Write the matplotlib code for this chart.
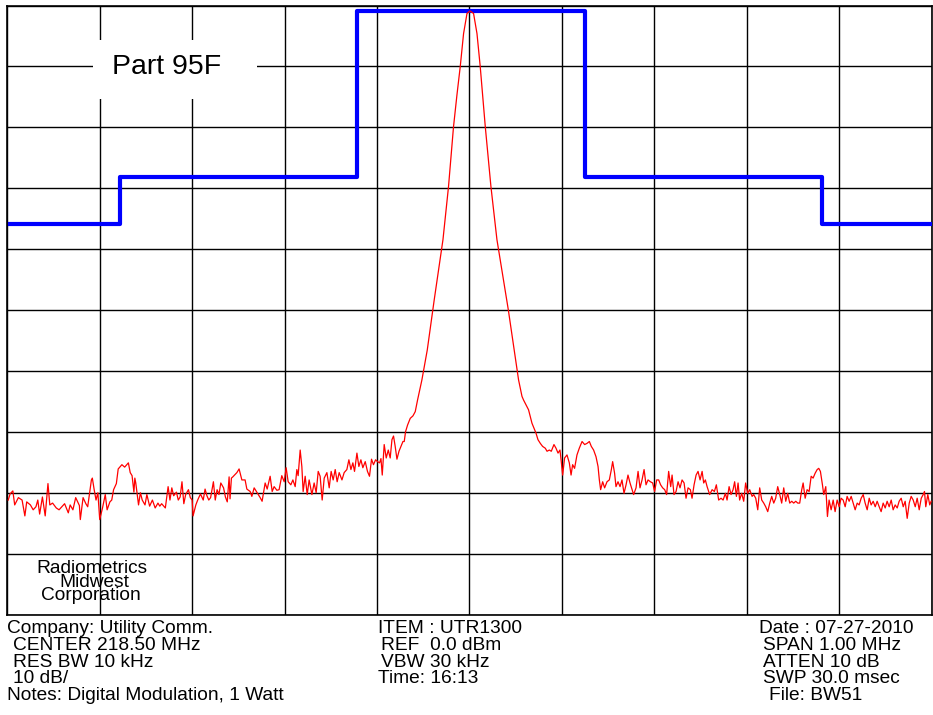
import matplotlib.pyplot as plt
from matplotlib.patches import Rectangle

plt.rcParams['font.family'] = ['Liberation Sans', 'DejaVu Sans']

# Part 95F emission mask (offset from centre in kHz, level in dBm)
mask_khz = [-497, -378, -378, -122, -122, 125, 125, 382, 382, 500]
mask_dbm = [-35.8, -35.8, -28.2, -28.2, -0.9, -0.9, -28.2, -28.2, -35.8, -35.8]

# measured sweep: offset from 218.50 MHz in kHz, level in dBm
trace_khz = [
    -499, -497, -494, -492, -488, -484, -481, -479, -475, -472, -469, -467, -465, -462,
    -459, -456, -454, -451, -447, -444, -441, -438, -434, -432, -429, -426, -422, -421,
    -418, -415, -413, -409, -408, -406, -404, -402, -400, -397, -394, -392, -389, -387,
    -385, -382, -380, -376, -373, -369, -367, -365, -363, -362, -361, -358, -356, -354,
    -351, -349, -346, -343, -340, -337, -335, -333, -329, -326, -324, -322, -320, -317,
    -315, -313, -311, -309, -307, -304, -302, -300, -299, -296, -294, -291, -288, -286,
    -284, -282, -280, -277, -275, -273, -271, -269, -266, -264, -262, -260, -259, -257.5,
    -256, -251.6, -249.2, -246.2, -242.7, -240.8, -237.2, -235.4, -232.9, -230.0, -226.4,
    -224.3, -221.0, -218.8, -215.6, -213.4, -211.3, -208.3, -205.9, -203.0, -200.4, -198.3,
    -196.1, -193.2, -191.0, -188.5, -186.7, -185.3, -183.1, -181.3, -179.9, -177.7, -175.5,
    -173.4, -170.4, -168.0, -165.8, -163.6, -161.5, -159.3, -157.1, -154.2, -151.7, -149.6,
    -147.4, -145.2, -143.1, -140.9, -137.9, -135.5, -132.6, -130.4, -128.2, -126.1, -124.3,
    -121.7, -119.6, -117.4, -115.3, -112.7, -110.3, -108.1, -105.9, -103.8, -101.5, -99.4,
    -97.2, -95.7, -94.3, -92.2, -90.0, -87.8, -85.7, -83.8, -82.1, -80.3, -78.4, -76.2,
    -74.1, -71.9, -70.5, -69.1, -66.9, -64.0, -61.1, -58.6, -56.1, -51.4, -45.6, -38.1,
    -28.6, -22.6, -17.2, -13.5, -9.9, -6.3, -2.6, 0.6, 4.5, 8.2, 11.7, 17.2, 23.3, 29.8,
    42.1, 53.2, 56.9, 58.6, 62.3, 64.0, 67.7, 72.0, 74.2, 76.7, 79.2, 82.1, 84.0, 86.5,
    88.6, 91.5, 93.7, 95.9, 98.0, 99.4, 100.9, 103.0, 105.6, 108.1, 110.0, 111.7, 113.8,
    116.4, 118.9, 121.9, 124.7, 127.3, 129.8, 131.9, 134.4, 137.0, 139.2, 140.6, 142.0,
    144.2, 146.3, 148.9, 151.4, 153.6, 155.0, 157.1, 158.6, 160.8, 163.0, 165.1, 167.3,
    169.5, 171.6, 173.8, 176.0, 177.7, 180.3, 182.5, 184.6, 186.8, 189.0, 191.1, 193.3,
    195.8, 198.3, 200.4, 202.6, 204.8, 206.9, 209.1, 211.3, 213.4, 215.6, 217.8, 219.3,
    221.4, 223.6, 225.8, 227.9, 230.1, 232.3, 234.4, 236.6, 239.1, 240.9, 243.1, 245.3,
    247.4, 249.6, 251.8, 253.5, 255.3, 257.2, 260.0, 262.6, 265.1, 267.2, 269.7, 272.3,
    274.5, 277.0, 278.8, 281.0, 283.1, 285.3, 287.0, 288.9, 290.7, 292.4, 294.6, 296.8,
    298.9, 301.1, 303.3, 305.9, 307.6, 309.8, 312.0, 314.1, 316.3, 318.5, 320.6, 322.8,
    325.0, 327.1, 329.3, 331.4, 333.6, 335.8, 337.9, 340.1, 342.3, 344.4, 346.6, 348.8,
    350.9, 353.1, 355.3, 357.4, 359.6, 361.1, 363.3, 365.4, 367.6, 369.8, 371.9, 374.1,
    376.3, 378.0, 379.8, 382.0, 383.4, 385.6, 387.4, 389.2, 391.4, 393.6, 395.7, 397.9,
    400.1, 402.2, 404.4, 406.6, 408.7, 410.9, 413.1, 415.2, 417.4, 419.6, 421.7, 423.9,
    426.1, 428.2, 430.4, 432.6, 434.7, 436.9, 439.1, 441.2, 443.4, 445.5, 447.7, 449.9,
    452.0, 454.2, 456.4, 458.5, 460.7, 462.9, 465.0, 467.2, 469.4, 471.5, 473.7, 475.9,
    478.0, 480.2, 482.4, 484.5, 486.7, 488.9, 491.0, 492.4, 493.8, 496.0, 498.1, 499.6,
]
trace_dbm = [
    -81.1, -80.1, -79.6, -81.9, -80.7, -81.1, -83.7, -81.4, -81.9, -82.7, -82.2, -81.1, -83.4, -80.6,
    -83.7, -78.4, -81.9, -81.6, -82.4, -82.7, -82.2, -81.7, -83.2, -81.9, -82.7, -80.7, -82.0, -84.3,
    -80.7, -81.7, -82.2, -77.8, -77.5, -79.4, -81.1, -79.9, -84.3, -82.4, -80.2, -82.7, -81.4, -81.1,
    -79.4, -78.4, -76.0, -75.3, -75.7, -75.0, -76.6, -77.1, -79.8, -77.5, -78.3, -81.9, -79.9, -81.1,
    -81.9, -80.2, -82.1, -81.1, -82.4, -81.6, -82.1, -81.7, -82.4, -78.9, -81.1, -79.1, -80.4, -79.8,
    -81.1, -80.6, -78.1, -81.7, -80.2, -79.4, -80.7, -81.1, -83.7, -81.9, -81.1, -80.1, -81.1, -79.3,
    -80.4, -81.1, -80.7, -78.1, -81.1, -79.4, -80.2, -78.3, -79.1, -80.6, -81.4, -77.3, -80.9, -77.5,
    -77.3, -76.6, -76.0, -77.8, -77.8, -79.3, -79.7, -80.5, -79.1, -79.8, -80.7,
    -81.3, -78.3, -79.3, -77.2, -79.7, -78.9, -79.5, -79.4, -77.1, -78.1, -75.8,
    -78.1, -78.6, -77.8, -78.9, -76.1, -77.1, -72.9, -75.6, -79.7, -77.2, -80.2,
    -77.8, -80.2, -78.3, -79.9, -76.4, -77.2, -81.1, -77.5, -76.6, -79.1, -76.4,
    -77.8, -76.1, -78.1, -76.6, -77.8, -76.6, -76.1, -74.5, -76.1, -75.0, -76.4,
    -73.4, -75.6, -74.5, -75.8, -74.8, -76.4, -77.2, -74.4, -75.3, -74.5, -74.8,
    -75.0, -74.3, -77.0, -72.0, -74.2, -72.9, -74.2, -71.2, -70.6, -72.3, -74.4, -73.1,
    -72.3, -71.5, -71.5, -69.9, -68.8, -67.7, -67.3, -66.6, -64.7, -61.4, -56.5, -48.3,
    -38.4, -29.7, -19.9, -14.7, -10.0, -4.6, -1.3, -0.9, -1.3, -4.6, -10.0, -19.9, -29.7, -38.4,
    -49.9, -61.4, -64.1, -64.7, -65.8, -66.3, -68.5, -70.1, -71.2, -71.8, -72.3, -72.6, -73.1, -72.9,
    -73.1, -72.0, -72.6, -73.4, -72.9, -74.8, -77.0, -74.2, -73.7, -75.0, -77.0, -75.3, -75.9,
    -73.7, -72.6, -71.5, -72.0, -71.8, -71.5, -72.3, -72.9, -74.0, -75.6, -77.8, -79.4,
    -78.1, -79.1, -78.1, -77.8, -76.1, -74.8, -76.7, -78.9, -78.1, -78.9, -77.8, -80.0,
    -78.6, -77.0, -78.3, -79.4, -80.2, -79.1, -76.4, -79.1, -77.8, -76.1, -78.6, -77.8,
    -78.1, -78.3, -79.7, -77.8, -77.8, -78.6, -79.1, -79.4, -80.2, -76.4, -78.9, -77.0,
    -80.2, -79.7, -78.1, -79.1, -77.8, -78.3, -80.8, -79.1, -79.4, -80.8, -78.6, -77.0,
    -76.4, -77.8, -76.4, -78.3, -77.8, -78.9, -80.2, -79.4, -79.7, -78.6, -81.1, -80.8,
    -81.1, -80.0, -81.1, -78.9, -80.2, -79.4, -78.1, -80.5, -78.3, -81.1, -80.0, -81.3,
    -78.3, -80.0, -79.4, -80.5, -80.2, -80.8, -82.7, -79.1, -81.1, -81.6, -82.2, -83.0,
    -81.6, -80.5, -81.6, -80.8, -78.9, -80.2, -81.6, -79.1, -81.3, -80.0, -81.6, -81.3,
    -81.6, -81.3, -81.6, -81.6, -79.4, -78.3, -80.8, -79.4, -79.7, -77.2, -77.5, -76.7,
    -76.1, -75.9, -76.4, -78.6, -80.2, -78.9, -83.8, -81.1, -82.7, -81.1, -83.0, -81.1,
    -82.2, -80.8, -81.1, -82.2, -80.5, -81.3, -80.5, -81.6, -82.7, -81.6, -81.9, -80.8,
    -80.2, -81.6, -82.7, -80.8, -81.9, -81.3, -82.2, -81.3, -82.2, -83.0, -81.6, -82.4,
    -81.3, -82.2, -81.1, -82.7, -81.9, -82.4, -81.3, -80.8, -82.2, -81.3, -84.1, -81.6,
    -80.5, -81.1, -82.2, -80.8, -82.7, -80.8, -80.2, -79.7, -82.2, -80.2, -81.9, -81.3,
]

W, H = 933, 715

fig = plt.figure(figsize=(W / 100, H / 100), dpi=100)
ax = fig.add_axes([7.3 / W, (H - 615.3) / H, 924.2 / W, 609.8 / H])

ax.set_xlim(-500, 500)
ax.set_ylim(-100, 0)
ax.set_xticks(range(-500, 501, 100))
ax.set_yticks(range(-100, 1, 10))
ax.tick_params(length=0, labelbottom=False, labelleft=False)
ax.grid(True, color='black', linewidth=1.0)
ax.set_axisbelow(True)
for s in ax.spines.values():
    s.set_color('black')
    s.set_linewidth(1.2)

ax.plot(mask_khz, mask_dbm, color='#0000ff', linewidth=3.0, zorder=3)
ax.plot(trace_khz, trace_dbm, color='#ff0000', linewidth=0.9, zorder=4)

# white label patch over the grid
ax.add_patch(Rectangle((0.0927, 0.8467), 0.1775, 0.0968, transform=ax.transAxes,
                       facecolor='white', edgecolor='none', zorder=2))
ax.text(0.1728, 0.899, 'Part 95F', transform=ax.transAxes, ha='center', va='center',
        fontsize=20.5, zorder=5)


def px(x, y):
    return x / W, 1 - y / H


# company block inside lower-left cell (lines sit tight, as on the analyser plot)
for label, x, y in [('Radiometrics', 91.5, 572.7), ('Midwest', 94.5, 586.7),
                    ('Corporation', 90.5, 600.0)]:
    fig.text(*px(x, y), label, ha='center', va='baseline', fontsize=13.8)

# footer: instrument settings
rows = [633.3, 650.0, 666.7, 683.3, 700.0]
left_col = [('Company: Utility Comm.', 7.3), ('CENTER 218.50 MHz', 13.3),
            ('RES BW 10 kHz', 13.3), ('10 dB/', 13.3),
            ('Notes: Digital Modulation, 1 Watt', 7.3)]
mid_col = [('ITEM : UTR1300', 377.7), ('REF  0.0 dBm', 381.0),
           ('VBW 30 kHz', 381.0), ('Time: 16:13', 377.7)]
right_col = [('Date : 07-27-2010', 759.3), ('SPAN 1.00 MHz', 763.3),
             ('ATTEN 10 dB', 763.3), ('SWP 30.0 msec', 763.3), ('File: BW51', 769.0)]

for col in (left_col, mid_col, right_col):
    for (label, x), y in zip(col, rows):
        fig.text(*px(x, y), label, ha='left', va='baseline', fontsize=13.8)

fig.savefig('out.png', dpi=100, facecolor='white')
